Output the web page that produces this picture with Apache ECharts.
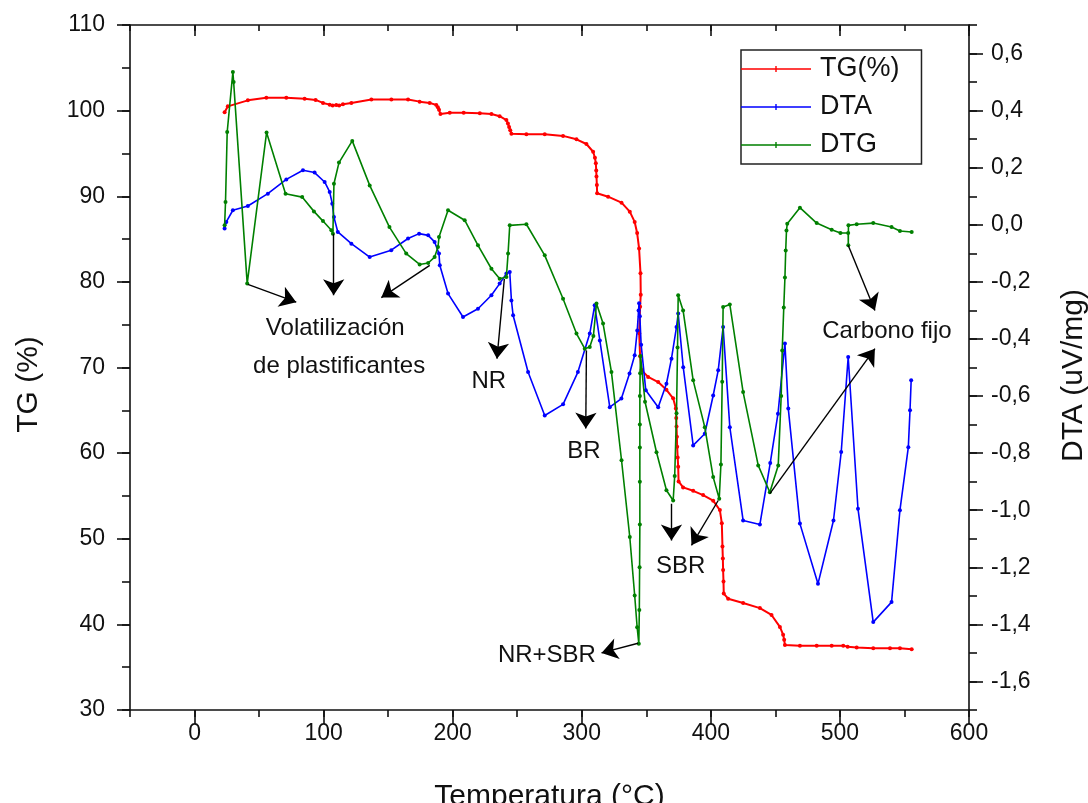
<!DOCTYPE html>
<html>
<head>
<meta charset="utf-8">
<title>TG / DTA / DTG</title>
<script src="https://cdn.jsdelivr.net/npm/echarts@6/dist/echarts.min.js"></script>
<style>
  html, body { margin: 0; padding: 0; background: #fff; }
  #chart { width: 1088px; height: 803px; }
</style>
</head>
<body>
<div id="chart"></div>
<script>
// Thermogravimetric curve, mass in % vs temperature (°C)
const tgData = [
  [23.3,99.8],[25.8,100.5],[41.3,101.2],[55.6,101.5],[71.1,101.5],[85.3,101.4],[93.8,101.25],
  [99.5,100.9],[104.7,100.7],[107,100.6],[109.8,100.65],[112,100.6],[115,100.75],[121.5,100.9],
  [137,101.3],[152.5,101.3],[165.4,101.3],[174.4,101.05],[182.2,100.9],[187.3,100.65],[188.5,100.4],
  [189.4,100.1],[190.5,99.6],[197.7,99.75],[208.5,99.75],[221,99.7],[230,99.6],[236.4,99.35],
  [241.6,98.9],[242.8,98.5],[243.7,98.1],[244.6,97.7],[245.5,97.3],[257.1,97.25],[271.3,97.25],
  [285.5,97.05],[295.9,96.65],[303.6,96.1],[308.8,95.2],[310.2,94.5],[310.9,93.85],[311.2,93.0],
  [311.4,92.3],[311.7,91.3],[311.9,90.35],[320.4,89.95],[330.8,89.25],[337.2,88.2],[341,87.0],
  [342.9,85.7],[344.4,83.9],[345.5,81.0],[345.7,78.5],[345.2,77.1],[344.5,74.0],[345.2,71.3],
  [346.3,69.7],[351.4,68.9],[359.2,68.3],[365.6,67.4],[370.8,66.4],[372.9,65.2],[373.2,64.1],
  [373.4,63.1],[373.7,61.9],[373.9,60.75],[374.3,59.5],[374.7,58.4],[375,56.7],[378.5,56.0],
  [386.3,55.6],[394,55.1],[401.8,54.45],[407,53.35],[408.5,51.8],[409,49.1],[409.3,47.7],
  [409.5,46.35],[409.8,45.0],[410,43.6],[413.4,43.0],[425,42.5],[438,41.9],[447,41.1],
  [453.5,39.7],[456,38.8],[456.8,38.2],[457.4,37.6],[469,37.5],[482,37.5],[493.6,37.5],
  [502.6,37.5],[506,37.4],[513,37.3],[525.8,37.2],[538.8,37.2],[546.5,37.2],[555.6,37.1]
];

// Differential thermal analysis signal (uV/mg)
const dtaData = [
  [23.3,-0.013],[24.6,0.01],[29.7,0.051],[41.3,0.066],[56.8,0.109],[71.1,0.159],[84,0.191],
  [93,0.183],[100.8,0.15],[104.7,0.115],[106.7,0.074],[108,0.027],[111,-0.025],[121.5,-0.066],
  [135.7,-0.113],[152.4,-0.089],[165.4,-0.048],[174,-0.031],[181,-0.037],[186,-0.06],
  [189.4,-0.101],[190,-0.142],[196.4,-0.241],[208,-0.323],[219.6,-0.294],[230,-0.247],
  [236.4,-0.206],[241.6,-0.171],[244.2,-0.165],[245.5,-0.265],[246.8,-0.317],[258.4,-0.516],
  [271.3,-0.668],[285.5,-0.629],[297,-0.516],[306.2,-0.381],[310,-0.282],[314,-0.405],
  [321.7,-0.639],[330.7,-0.609],[337,-0.521],[341,-0.457],[343,-0.37],[344,-0.3],[344.4,-0.275],
  [345,-0.32],[346,-0.42],[349.6,-0.58],[359.2,-0.639],[365.6,-0.557],[369.5,-0.469],
  [373.4,-0.358],[374.7,-0.311],[378.6,-0.499],[386.3,-0.773],[395.3,-0.732],[401.8,-0.598],
  [405.7,-0.51],[409.5,-0.358],[414.7,-0.709],[425,-1.036],[438,-1.05],[446,-0.835],
  [452,-0.662],[457.4,-0.416],[460,-0.644],[469,-1.047],[483,-1.258],[495,-1.036],
  [501,-0.796],[506.4,-0.463],[514,-0.995],[525.8,-1.392],[540,-1.322],[546.5,-1.0],
  [553,-0.779],[554.3,-0.65],[555.2,-0.545]
];

// Derivative of the thermogravimetric curve
const dtgData = [
  [23.3,-0.002],[24,0.08],[25.3,0.325],[29.7,0.535],[30.3,0.5],[40.8,-0.206],[55.8,0.323],
  [70.5,0.109],[83.4,0.097],[92.5,0.047],[99.5,0.013],[106,-0.019],[107.2,-0.031],[108,0.144],
  [111.9,0.218],[122.2,0.294],[135.7,0.138],[151,-0.008],[164,-0.101],[174.4,-0.139],
  [181,-0.134],[186,-0.113],[188.6,-0.078],[189.4,-0.043],[196.4,0.051],[209.3,0.016],
  [219.6,-0.072],[230,-0.154],[236.4,-0.189],[241.6,-0.183],[242.9,-0.101],[244.2,-0.002],
  [257.1,0.002],[271.3,-0.107],[285.5,-0.259],[295.9,-0.381],[302.3,-0.434],[306.2,-0.428],
  [309,-0.39],[311.4,-0.276],[316.5,-0.346],[323,-0.516],[330.8,-0.825],[337.2,-1.094],
  [341,-1.299],[342.9,-1.41],[344.2,-1.468],[344.6,-1.35],[344.8,-1.2],[345,-1.05],[345,-0.9],
  [345,-0.78],[345,-0.7],[345,-0.6],[345.2,-0.52],[345.5,-0.46],[349,-0.62],[357.9,-0.797],
  [365.6,-0.93],[370.8,-0.966],[372,-0.88],[373.4,-0.66],[374.2,-0.43],[374.7,-0.247],
  [378.5,-0.3],[386.3,-0.545],[395.3,-0.709],[401.8,-0.884],[406.5,-0.96],[407.8,-0.84],
  [408.8,-0.55],[409.5,-0.288],[414.7,-0.279],[425,-0.586],[436.7,-0.843],[445.7,-0.937],
  [452.2,-0.843],[454.5,-0.6],[455.3,-0.44],[456.5,-0.29],[457.4,-0.185],[458,-0.09],
  [458.6,-0.02],[459.2,0.004],[469,0.06],[482,0.006],[493.6,-0.017],[500.4,-0.029],
  [506.4,-0.029],[506.5,-0.072],[506.6,-0.002],[513,0.002],[525.8,0.006],[540,-0.008],
  [546.5,-0.022],[555.6,-0.025]
];

// Annotation arrows: [start, tip] in (°C, uV/mg)
const arrowData = [
  [[41.3,-0.209],[78.8,-0.271]],
  [[107.8,-0.031],[107.8,-0.247]],
  [[182.2,-0.142],[144.7,-0.255]],
  [[240,-0.19],[234.3,-0.469]],
  [[303.6,-0.44],[303.1,-0.714]],
  [[369.5,-0.977],[369.5,-1.106]],
  [[405.7,-0.966],[385,-1.123]],
  [[343.6,-1.466],[315.3,-1.5]],
  [[506.4,-0.072],[527.1,-0.3]],
  [[445.7,-0.942],[527.1,-0.434]]
];

// Annotation labels: (°C, uV/mg, text)
const noteData = [
  [109,-0.363,'Volatilización'],
  [112,-0.496,'de plastificantes'],
  [228,-0.549,'NR'],
  [301.6,-0.794,'BR'],
  [376.7,-1.197,'SBR'],
  [273,-1.509,'NR+SBR'],
  [536.4,-0.373,'Carbono fijo']
];

const seriesNames = ['TG(%)', 'DTA', 'DTG'];
const xMajorTicks = [0, 100, 200, 300, 400, 500, 600];
const tgMajorTicks = [30, 40, 50, 60, 70, 80, 90, 100, 110];
const dtaMajorTicks = [-1.6, -1.4, -1.2, -1.0, -0.8, -0.6, -0.4, -0.2, 0.0, 0.2, 0.4, 0.6];

const FONT = '"Liberation Sans", Arial, sans-serif';
const INK = '#111';
const TEXT = '#111';

const chart = echarts.init(document.getElementById('chart'), null, { renderer: 'canvas' });

const axisLineStyle = { show: true, onZero: false, lineStyle: { color: INK, width: 1.6 } };
const tickStyle = { color: INK, width: 1.6 };
const labelStyle = { color: TEXT, fontFamily: FONT, fontSize: 23 };

// Legend glyph: a line with a small tick in the middle
const legendIcon = 'path://M0,5.3 L70,5.3 L70,6.7 L0,6.7 Z M34.3,3 L35.7,3 L35.7,9 L34.3,9 Z';

function xAxisPair(position, inside, majorLen, minorLen, withLabels, withName) {
  const base = {
    type: 'value', position, min: -50, max: 600, gridIndex: 0,
    splitLine: { show: false }
  };
  return [
    Object.assign({}, base, {
      interval: 50,
      axisLine: axisLineStyle,
      axisTick: { show: true, inside, length: minorLen, lineStyle: tickStyle },
      axisLabel: withLabels ? Object.assign({
        show: true, margin: 12,
        formatter: v => (Math.round(v) % 100 === 0 ? String(Math.round(v)) : '')
      }, labelStyle) : { show: false },
      name: withName ? 'Temperatura (°C)' : '',
      nameLocation: 'middle', nameGap: 72,
      nameTextStyle: { color: TEXT, fontFamily: FONT, fontSize: 30 }
    }),
    Object.assign({}, base, {
      axisLine: { show: false, onZero: false },
      axisTick: { show: true, inside, length: majorLen, lineStyle: tickStyle, customValues: xMajorTicks },
      axisLabel: { show: false }
    })
  ];
}

const option = {
  animation: false,
  backgroundColor: '#fff',
  grid: { left: 130, right: 119, top: 25, bottom: 93, containLabel: false, outerBoundsMode: 'none' },
  legend: {
    data: seriesNames.map(n => ({ name: n, icon: legendIcon })),
    orient: 'vertical',
    left: 741, top: 50,
    padding: [4, 22, 4, 0],
    itemWidth: 70, itemHeight: 12, itemGap: 8,
    borderColor: '#222', borderWidth: 1.5,
    textStyle: { fontFamily: FONT, fontSize: 27, color: TEXT, lineHeight: 30, padding: [0, 0, 0, 4] }
  },
  xAxis: [
    ...xAxisPair('bottom', false, 14, 7, true, true),
    ...xAxisPair('top', true, 11, 6, false, false)
  ],
  yAxis: [
    {
      type: 'value', position: 'left', min: 30, max: 110, interval: 5,
      splitLine: { show: false },
      axisLine: axisLineStyle,
      axisTick: { show: true, length: 8, lineStyle: tickStyle },
      axisLabel: Object.assign({
        margin: 25,
        formatter: v => (Math.round(v) % 10 === 0 ? String(Math.round(v)) : '')
      }, labelStyle),
      name: 'TG (%)', nameLocation: 'middle', nameGap: 86,
      nameTextStyle: { color: TEXT, fontFamily: FONT, fontSize: 30, padding: [0, 34, 0, 0] }
    },
    {
      type: 'value', position: 'left', min: 30, max: 110,
      splitLine: { show: false },
      axisLine: { show: false, onZero: false },
      axisTick: { show: true, length: 13, lineStyle: tickStyle, customValues: tgMajorTicks },
      axisLabel: { show: false }
    },
    {
      type: 'value', position: 'right', min: -1.7, max: 0.7, interval: 0.1,
      splitLine: { show: false },
      axisLine: axisLineStyle,
      axisTick: { show: true, length: 8, lineStyle: tickStyle },
      axisLabel: Object.assign({
        margin: 22,
        formatter: v => {
          const r = Math.round(v * 10);
          if (r % 2 !== 0) return '';
          return (r / 10).toFixed(1).replace('.', ',');
        }
      }, labelStyle),
      name: 'DTA (uV/mg)', nameLocation: 'middle', nameGap: 90,
      nameTextStyle: { color: TEXT, fontFamily: FONT, fontSize: 30, padding: [0, 16, 0, 0] }
    },
    {
      type: 'value', position: 'right', min: -1.7, max: 0.7,
      splitLine: { show: false },
      axisLine: { show: false, onZero: false },
      axisTick: { show: true, length: 14, lineStyle: tickStyle, customValues: dtaMajorTicks },
      axisLabel: { show: false }
    }
  ],
  series: [
    {
      name: seriesNames[0], type: 'line', xAxisIndex: 0, yAxisIndex: 0,
      data: tgData, symbol: 'circle', symbolSize: 4, showAllSymbol: true,
      lineStyle: { color: '#ff0000', width: 2 },
      itemStyle: { color: '#ff0000' }, z: 3
    },
    {
      name: seriesNames[1], type: 'line', xAxisIndex: 0, yAxisIndex: 2,
      data: dtaData, symbol: 'circle', symbolSize: 4, showAllSymbol: true,
      lineStyle: { color: '#0000ff', width: 1.6 },
      itemStyle: { color: '#0000ff' }, z: 4
    },
    {
      name: seriesNames[2], type: 'line', xAxisIndex: 0, yAxisIndex: 2,
      data: dtgData, symbol: 'circle', symbolSize: 4, showAllSymbol: true,
      lineStyle: { color: '#008000', width: 1.6 },
      itemStyle: { color: '#008000' }, z: 5
    },
    {
      name: 'arrows', type: 'lines', coordinateSystem: 'cartesian2d',
      xAxisIndex: 0, yAxisIndex: 2,
      data: arrowData.map(a => ({ coords: a })),
      symbol: ['none', 'arrow'], symbolSize: [10, 16],
      lineStyle: { color: '#000', width: 1.4, opacity: 1 },
      silent: true, z: 6
    }
  ]
};

chart.setOption(option);

// Place the annotation texts at their data positions on the DTA scale
const finder = { xAxisIndex: 0, yAxisIndex: 2 };
chart.setOption({
  graphic: noteData.map(([t, v, txt]) => {
    const [px, py] = chart.convertToPixel(finder, [t, v]);
    return {
      type: 'text', x: px, y: py, z: 100, silent: true,
      style: {
        text: txt, fill: TEXT, font: '24px ' + FONT,
        textAlign: 'center', textVerticalAlign: 'middle'
      }
    };
  })
});
</script>
</body>
</html>
